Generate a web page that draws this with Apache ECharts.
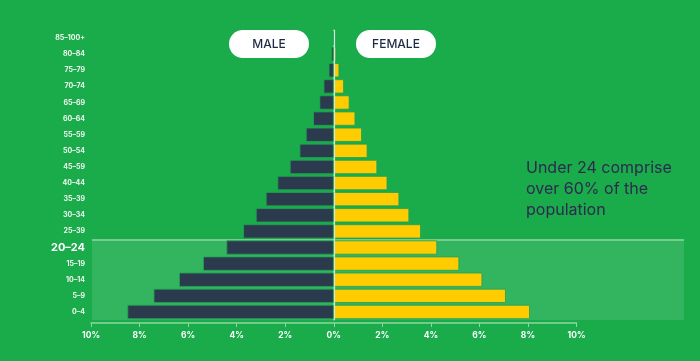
<!DOCTYPE html>
<html><head><meta charset="utf-8">
<script src="https://cdn.jsdelivr.net/npm/echarts@6/dist/echarts.min.js"></script>
<style>html,body{margin:0;padding:0;background:#1aab4b;}#c{width:700px;height:361px;}</style>
</head><body><div id="c"></div>
<script>
const ageGroups = ['0–4','5–9','10–14','15–19','20–24','25–39','30–34','35–39','40–44','45–59','50–54','55–59','60–64','65–69','70–74','75–79','80–84','85–100+'];
const maleValues = [8.5, 7.42, 6.37, 5.38, 4.42, 3.73, 3.21, 2.8, 2.32, 1.81, 1.41, 1.15, 0.85, 0.59, 0.42, 0.21, 0.1, 0.04];
const femaleValues = [8.08, 7.09, 6.12, 5.17, 4.26, 3.59, 3.11, 2.7, 2.21, 1.79, 1.39, 1.16, 0.89, 0.65, 0.42, 0.23, 0.1, 0.07];
const xTicks = [-10, -8, -6, -4, -2, 0, 2, 4, 6, 8, 10];
const highlightGroup = '20–24';
const seriesNames = ['MALE', 'FEMALE'];
const noteText = 'Under 24 comprise\nover 60% of the\npopulation';

const chart = echarts.init(document.getElementById('c'));
const FONT = 'Inter, "Noto Sans", sans-serif';
const option = {
  backgroundColor: '#1aab4b',
  animation: false,
  grid: { left: 91, right: 123.5, top: 30, bottom: 41 },
  xAxis: {
    type: 'value', min: xTicks[0], max: xTicks[xTicks.length - 1], interval: 2,
    offset: 3,
    axisLine: { show: true, lineStyle: { color: '#8fd6a2', width: 1.5 } },
    axisTick: { show: true, length: 4, lineStyle: { color: '#8fd6a2', width: 1 } },
    splitLine: { show: false },
    axisLabel: { color: '#ffffff', fontFamily: FONT, fontWeight: 'bold', fontSize: 8.5, margin: 8,
      formatter: v => Math.abs(v) + '%' }
  },
  yAxis: {
    type: 'category', data: ageGroups,
    axisLine: { show: true, lineStyle: { color: '#8fd6a2', width: 1.5 } },
    axisTick: { show: false },
    axisLabel: {
      margin: 6,
      formatter: v => v === highlightGroup ? '{big|' + v + '}' : '{sm|' + v + '}',
      rich: {
        sm: { color: '#eef8f0', fontFamily: FONT, fontWeight: 'bold', fontSize: 7 },
        big: { color: '#ffffff', fontFamily: FONT, fontWeight: 'bold', fontSize: 11 }
      }
    }
  },
  series: [
    {
      name: seriesNames[0], type: 'bar', barCategoryGap: '12%', barGap: '-100%', z: 3,
      data: maleValues.map(v => -v),
      itemStyle: { color: '#2b3a4c', borderColor: '#22a154', borderWidth: 0.8 },
      markLine: {
        silent: true, symbol: 'none', label: { show: false },
        lineStyle: { color: '#c9ecd3', width: 1.2, type: 'solid' },
        data: [{ xAxis: 0 }]
      }
    },
    {
      name: seriesNames[1], type: 'bar', barCategoryGap: '12%', barGap: '-100%', z: 3,
      data: femaleValues,
      itemStyle: { color: '#ffcc00', borderColor: '#22a154', borderWidth: 0.8 }
    }
  ]
};
chart.setOption(option);

(function () {
  const yHi = chart.convertToPixel({ yAxisIndex: 0 }, highlightGroup);
  const yNext = chart.convertToPixel({ yAxisIndex: 0 }, ageGroups[ageGroups.indexOf(highlightGroup) - 1]);
  const band = Math.abs(yNext - yHi);
  const yLow = chart.convertToPixel({ yAxisIndex: 0 }, ageGroups[0]);
  const xLeft = chart.convertToPixel({ xAxisIndex: 0 }, xTicks[0]);
  const bandTop = yHi - band / 2;
  const bandBottom = yLow + band / 2;
  const rightEdge = 684;

  function pill(cx, text) {
    return {
      type: 'group', left: cx - 40, top: 30,
      children: [
        { type: 'rect', shape: { x: 0, y: 0, width: 80, height: 28, r: 14 }, style: { fill: '#ffffff' } },
        { type: 'text', x: 40, y: 14, style: { text: text, fill: '#1e2b45', font: '500 12px ' + FONT, textAlign: 'center', textVerticalAlign: 'middle' } }
      ]
    };
  }

  chart.setOption({
    graphic: [
      { type: 'rect', z: -10, shape: { x: xLeft + 1, y: bandTop, width: rightEdge - xLeft - 1, height: bandBottom - bandTop }, style: { fill: '#33b55f' } },
      { type: 'line', z: -9, shape: { x1: xLeft + 1, y1: bandTop + 0.5, x2: rightEdge, y2: bandTop + 0.5 }, style: { stroke: '#8fd6a2', lineWidth: 1.5 } },
      pill(269, seriesNames[0]),
      pill(396, seriesNames[1]),
      { type: 'text', left: 526, top: 158, style: { text: noteText, fill: '#2d2b4e', font: '16px ' + FONT, lineHeight: 21 } }
    ]
  });
})();
</script></body></html>
